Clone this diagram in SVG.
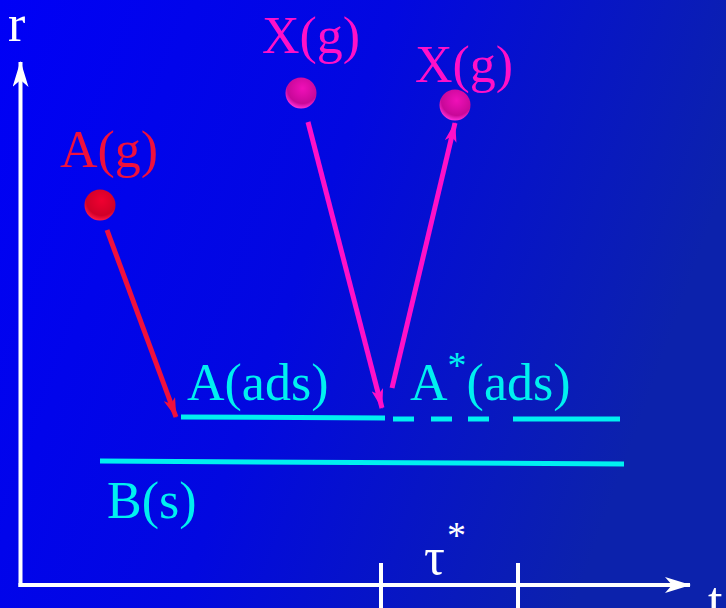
<svg xmlns="http://www.w3.org/2000/svg" width="726" height="608" viewBox="0 0 726 608">
<defs>
<linearGradient id="bg" x1="0" y1="0" x2="1" y2="0.3">
<stop offset="0" stop-color="#0000f6"/>
<stop offset="0.5" stop-color="#0208e0"/>
<stop offset="1" stop-color="#0c22ac"/>
</linearGradient>
<radialGradient id="ballRed" cx="0.55" cy="0.35" r="0.65">
<stop offset="0" stop-color="#f00030"/>
<stop offset="0.75" stop-color="#d00028"/>
<stop offset="1" stop-color="#ff1848"/>
</radialGradient>
<radialGradient id="ballMag" cx="0.55" cy="0.35" r="0.65">
<stop offset="0" stop-color="#f010b8"/>
<stop offset="0.75" stop-color="#c80898"/>
<stop offset="1" stop-color="#ff30d8"/>
</radialGradient>
<marker id="ahRed" viewBox="0 0 20 12" refX="19" refY="6" markerWidth="20" markerHeight="12" markerUnits="userSpaceOnUse" orient="auto">
<path d="M0,0 L20,6 L0,12 L5,6 Z" fill="#f0103c"/>
</marker>
<marker id="ahMag" viewBox="0 0 20 12" refX="19" refY="6" markerWidth="20" markerHeight="12" markerUnits="userSpaceOnUse" orient="auto">
<path d="M0,0 L20,6 L0,12 L5,6 Z" fill="#ff10c8"/>
</marker>
<marker id="ahWhite" viewBox="0 0 26 16" refX="25" refY="8" markerWidth="26" markerHeight="16" markerUnits="userSpaceOnUse" orient="auto">
<path d="M0,0 L26,8 L0,16 L7,8 Z" fill="#ffffff"/>
</marker>
</defs>
<style>
text { font-family: "Liberation Serif", "Times New Roman", serif; font-size: 52px; }
.white { fill: #ffffff; }
.red { fill: #f0103c; }
.mag { fill: #ff10c8; }
.cyan { fill: #00f0f0; }
.axis { stroke: #ffffff; stroke-width: 4; fill: none; }
.surf { stroke: #00f0f0; stroke-width: 5; fill: none; }
.arrRed { stroke: #f0103c; stroke-width: 5; fill: none; }
.arrMag { stroke: #ff10c8; stroke-width: 5; fill: none; }
.sup { font-size: 38px; }
</style>
<rect x="0" y="0" width="726" height="608" fill="url(#bg)"/>

<g id="axes">
<path class="axis" d="M20.5,587 L20.5,62" marker-end="url(#ahWhite)"/>
<path class="axis" d="M18.5,585 L690,585" marker-end="url(#ahWhite)"/>
<line class="axis" x1="381" y1="563" x2="381" y2="608" stroke-width="3"/>
<line class="axis" x1="518" y1="563" x2="518" y2="608" stroke-width="3"/>
<text class="white" x="8" y="41" font-size="60">r</text>
<text class="white" x="708" y="618" font-size="60">t</text>
<text class="white" x="424" y="574" font-size="62">τ<tspan class="sup" dx="2" dy="-26">*</tspan></text>
</g>

<g id="A_g">
<text class="red" x="60" y="167">A(g)</text>
<circle cx="100" cy="205" r="15.5" fill="url(#ballRed)"/>
</g>

<g id="X_g_1">
<text class="mag" x="262" y="53">X(g)</text>
<circle cx="301" cy="93" r="15.5" fill="url(#ballMag)"/>
</g>

<g id="X_g_2">
<text class="mag" x="415" y="82">X(g)</text>
<circle cx="455" cy="105" r="15.5" fill="url(#ballMag)"/>
</g>

<g id="A_ads">
<text class="cyan" x="187" y="400">A(ads)</text>
<line class="surf" x1="181" y1="417" x2="385" y2="418"/>
</g>

<g id="Astar_ads">
<text class="cyan" x="410" y="400">A<tspan class="sup" dy="-22">*</tspan><tspan dy="22">(ads)</tspan></text>
<line class="surf" x1="393" y1="419" x2="414" y2="419"/>
<line class="surf" x1="431" y1="419" x2="452" y2="419"/>
<line class="surf" x1="468" y1="419" x2="489" y2="419"/>
<line class="surf" x1="513" y1="419" x2="620" y2="419"/>
</g>

<g id="B_s">
<line class="surf" x1="100" y1="461" x2="624" y2="464"/>
<text class="cyan" x="107" y="518">B(s)</text>
</g>

<g id="connectors">
<line class="arrRed" x1="107" y1="230" x2="176" y2="417" marker-end="url(#ahRed)"/>
<line class="arrMag" x1="308" y1="122" x2="382" y2="408" marker-end="url(#ahMag)"/>
<line class="arrMag" x1="392" y1="388" x2="455" y2="123" marker-end="url(#ahMag)"/>
</g>
</svg>
